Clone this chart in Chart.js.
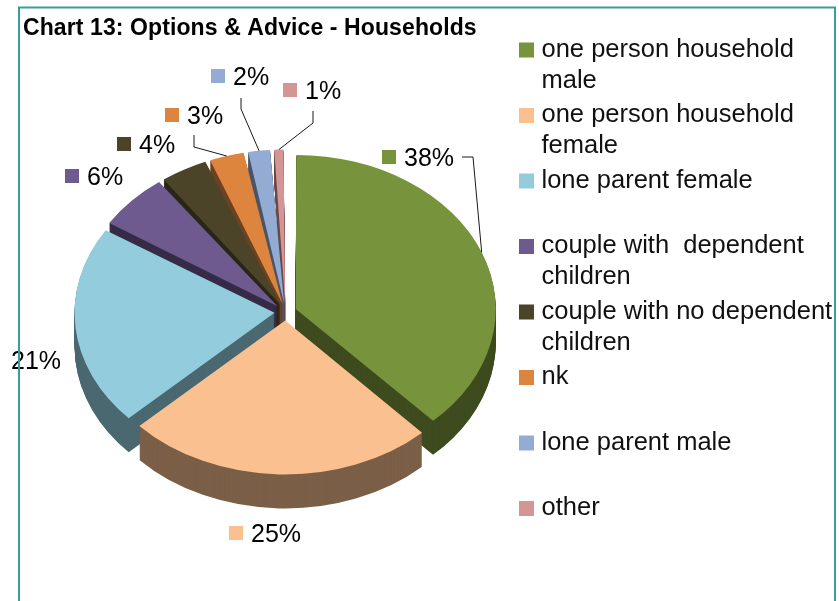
<!DOCTYPE html>
<html>
<head>
<meta charset="utf-8">
<title>Chart 13: Options &amp; Advice - Households</title>
<script src="https://cdn.jsdelivr.net/npm/chart.js@4.4.1/dist/chart.umd.min.js"></script>
<style>
  html, body { margin: 0; padding: 0; background: #fff; }
  #wrap { position: relative; width: 839px; height: 601px; }
</style>
</head>
<body>
<div id="wrap"><canvas id="householdsChart"></canvas></div>
<script>
// Data
const TITLE = 'Chart 13: Options & Advice - Households';
const CATEGORIES = [
    'one person household male',
    'one person household female',
    'lone parent female',
    'couple with  dependent children',
    'couple with no dependent children',
    'nk',
    'lone parent male',
    'other'
];
// legend text as it wraps in the key
const LEGEND_LINES = [
    ['one person household', 'male'],
    ['one person household', 'female'],
    ['lone parent female'],
    ['couple with  dependent', 'children'],
    ['couple with no dependent', 'children'],
    ['nk'],
    ['lone parent male'],
    ['other']
];
const SHARES = [38, 25, 21, 6, 4, 3, 2, 1];
const TOP_COLOURS = ['#77933C', '#FAC08F', '#93CDDD', '#6F5A8F', '#4B4429', '#DD843E', '#94ABD3', '#D69595'];
const SIDE_COLOURS = ['#3D4B1F', '#7B5F47', '#4A6870', '#372C47', '#2A2617', '#6E4220', '#4A5669', '#6B4A4A'];

// Pie geometry (px)
const RADIUS = 200;
const SQUASH = 0.77;   // vertical flattening of the tilted pie
const DEPTH = 34;      // thickness of the pie wall
const EXPLODE = 11;    // how far each slice is pulled out

// Percentage labels: text anchor relative to pie centre, optional leader elbows
const LABEL_POS = [[118.5, -155], [-34.5, 221], [-274.5, 48], [-198.5, -136], [-146.5, -168], [-98.5, -197], [-52.5, -236], [19.5, -222]];
const LEADERS = [
    [[176.5, -155], [187.5, -155]],
    null, null, null, null,
    [[-91.5, -177], [-91.5, -165]],
    [[-44.5, -214], [-44.5, -203]],
    [[27.5, -201], [27.5, -189]]
];

const FONT = '"Liberation Sans", Arial, sans-serif';

function midAngle(arc) {
    return (arc.startAngle + arc.endAngle) / 2;
}

// Turns the flat pie into a tilted, exploded 3D pie
const pie3d = {
    id: 'pie3d',
    afterDatasetUpdate(chart, args) {
        // keep every slice at the same radius once it is exploded
        args.meta.data.forEach(arc => {
            const fix = 1 - Math.sin(Math.min(Math.PI, arc.circumference));
            arc.outerRadius = RADIUS - EXPLODE * fix;
        });
    },
    beforeDatasetsDraw(chart) {
        const ctx = chart.ctx;
        const arcs = chart.getDatasetMeta(0).data;
        const cx = arcs[0].x, cy = arcs[0].y;

        // walls first, back slices before front ones
        const order = arcs.map((a, i) => i).sort((a, b) => Math.sin(midAngle(arcs[a])) - Math.sin(midAngle(arcs[b])));
        ctx.save();
        ctx.translate(cx, cy);
        ctx.scale(1, SQUASH);
        ctx.translate(-cx, -cy);
        order.forEach(i => {
            const arc = arcs[i];
            const wall = Object.create(arc);
            wall.options = Object.assign({}, arc.options, { backgroundColor: SIDE_COLOURS[i], borderWidth: 0 });
            for (let k = DEPTH; k >= 1; k--) {
                ctx.save();
                ctx.translate(0, k / SQUASH);
                wall.draw(ctx);
                ctx.restore();
            }
        });
        ctx.restore();

        // top faces get drawn by the controller under the same flattening
        ctx.save();
        ctx.translate(cx, cy);
        ctx.scale(1, SQUASH);
        ctx.translate(-cx, -cy);
    },
    afterDatasetsDraw(chart) {
        chart.ctx.restore();
    },
    afterDraw(chart) {
        const ctx = chart.ctx;
        const arcs = chart.getDatasetMeta(0).data;
        const cx = arcs[0].x, cy = arcs[0].y;

        ctx.save();
        // title
        ctx.fillStyle = '#000';
        ctx.font = 'bold 23px ' + FONT;
        ctx.letterSpacing = '0.1px';
        ctx.textBaseline = 'alphabetic';
        ctx.fillText(TITLE, 23, 35);
        ctx.letterSpacing = '0px';

        // value labels with leader lines
        ctx.font = '25px ' + FONT;
        arcs.forEach((arc, i) => {
            const a = midAngle(arc);
            const tx = cx + LABEL_POS[i][0];
            const ty = cy + LABEL_POS[i][1];
            if (LEADERS[i]) {
                const ax = cx + EXPLODE * Math.cos(a);
                const ay = cy + EXPLODE * Math.sin(a) * SQUASH;
                ctx.beginPath();
                LEADERS[i].forEach((p, j) => {
                    if (j === 0) ctx.moveTo(cx + p[0], cy + p[1]);
                    else ctx.lineTo(cx + p[0], cy + p[1]);
                });
                ctx.lineTo(ax + RADIUS * Math.cos(a), ay + RADIUS * Math.sin(a) * SQUASH);
                ctx.strokeStyle = '#1a1a1a';
                ctx.lineWidth = 1;
                ctx.stroke();
            }
            if (tx - 22 >= 0) {
                ctx.fillStyle = TOP_COLOURS[i];
                ctx.fillRect(tx - 22, ty - 7, 14, 14);
            }
            ctx.fillStyle = '#000';
            ctx.fillText(SHARES[i] + '%', tx, ty + 8.5);
        });

        // legend
        ctx.font = '25.5px ' + FONT;
        LEGEND_LINES.forEach((lines, i) => {
            const y = 50 + i * 65.5;
            ctx.fillStyle = TOP_COLOURS[i];
            ctx.fillRect(519, y - 7.5, 15, 15);
            ctx.fillStyle = '#111';
            lines.forEach((t, j) => ctx.fillText(t, 541.5, y + 6.5 + j * 31));
        });

        // frame
        ctx.strokeStyle = '#3A9D9B';
        ctx.lineWidth = 2;
        ctx.strokeRect(19, 7.5, 816, 700);
        ctx.restore();
    }
};

new Chart(document.getElementById('householdsChart'), {
    type: 'pie',
    data: {
        labels: CATEGORIES,
        datasets: [{
            data: SHARES,
            backgroundColor: TOP_COLOURS,
            borderWidth: 0,
            offset: EXPLODE * 4,
            radius: RADIUS
        }]
    },
    options: {
        responsive: true,
        maintainAspectRatio: false,
        animation: false,
        events: [],
        layout: { padding: { left: 0, right: 268, top: 23, bottom: 0 } },
        plugins: {
            legend: { display: false },
            title: { display: false },
            tooltip: { enabled: false }
        }
    },
    plugins: [pie3d]
});
</script>
</body>
</html>
